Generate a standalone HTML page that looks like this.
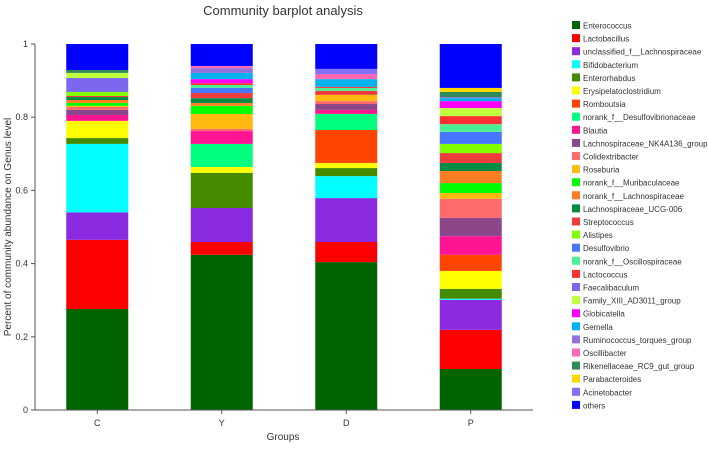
<!DOCTYPE html>
<html><head><meta charset="utf-8"><style>
body{margin:0;background:#fff;font-family:"Liberation Sans",Arial,sans-serif}
svg text{font-family:"Liberation Sans",Arial,sans-serif;fill:#333}
</style></head><body>
<svg id="chart" width="708" height="444" xmlns="http://www.w3.org/2000/svg">
<text x="283" y="15" font-size="13" text-anchor="middle">Community barplot analysis</text>
<g id="bars"></g><g id="axes"></g><g id="legend"></g>
</svg>
<script>
const groups=["C","Y","D","P"];
const genera=["Enterococcus","Lactobacillus","unclassified_f__Lachnospiraceae","Bifidobacterium","Enterorhabdus","Erysipelatoclostridium","Romboutsia","norank_f__Desulfovibrionaceae","Blautia","Lachnospiraceae_NK4A136_group","Colidextribacter","Roseburia","norank_f__Muribaculaceae","norank_f__Lachnospiraceae","Lachnospiraceae_UCG-006","Streptococcus","Alistipes","Desulfovibrio","norank_f__Oscillospiraceae","Lactococcus","Faecalibaculum","Family_XIII_AD3011_group","Globicatella","Gemella","Ruminococcus_torques_group","Oscillibacter","Rikenellaceae_RC9_gut_group","Parabacteroides","Acinetobacter","others"];
const colors=["#006400","#ff0000","#8a2be2","#00ffff","#458b00","#ffff00","#ff4500","#00ff7f","#ff1493","#8b4789","#ff6a6a","#ffb90f","#00ff00","#ff7f24","#008b45","#ee3b3b","#7fff00","#4876ff","#4eee94","#ff3030","#7b68ee","#c0ff3e","#ff00ff","#00b2ee","#9370db","#ff69b4","#2e8b57","#ffd700","#8470ff","#0000ff"];
const valuesC=[.276,.189,.075,.187,.016,.047,0,0,.016,.014,.008,.003,.008,.008,.008,.003,.011,0,0,0,.038,.014,0,0,0,0,.008,0,0,.071];
const valuesY=[.424,.035,.093,0,.096,.016,0,.063,.035,0,.006,.041,.022,.008,.013,.014,0,.014,.008,.005,0,0,.011,.017,.013,.006,0,0,0,.06];
const valuesD=[.404,.055,.12,.06,.022,.014,.09,.044,.011,.016,.008,.017,0,0,0,.011,0,0,.008,.003,0,0,0,.021,0,.014,0,0,.014,.068];
const valuesP=[.112,.107,.082,.003,.027,.049,.044,0,.051,.05,.052,.016,.027,.033,.022,.027,.025,.033,.021,.022,0,.022,.019,.008,.003,0,.014,.011,0,.12];
const yTicks=[0,0.2,0.4,0.6,0.8,1];
const series=[valuesC,valuesY,valuesD,valuesP];
const NS="http://www.w3.org/2000/svg";
const X0=35,X1=533,Y0=410,Y1=44;
const band=(X1-X0)/groups.length, bw=62;
const y=v=>Y0-(Y0-Y1)*v;
const xc=i=>X0+band*(i+0.5);
function mk(tag,attrs,parent){const e=document.createElementNS(NS,tag);for(const k in attrs)e.setAttribute(k,attrs[k]);parent.appendChild(e);return e;}
const gb=document.getElementById('bars'),ga=document.getElementById('axes'),gl=document.getElementById('legend');
groups.forEach((g,i)=>{let cum=0;series[i].forEach((v,j)=>{if(v<=0)return;
 const r=mk('rect',{x:xc(i)-bw/2,y:y(cum+v),width:bw,height:y(cum)-y(cum+v),fill:colors[j]},gb);
 
 
 cum+=v;});
 const t=mk('line',{x1:xc(i),x2:xc(i),y1:Y0,y2:Y0+4,stroke:'#555'},ga);
 
 
 const l=mk('text',{x:xc(i),y:Y0+16,'font-size':9,'text-anchor':'middle'},ga);l.textContent=g;
 
 
});
const ax=mk('path',{d:`M${X0},${Y1}V${Y0}H${X1}`,stroke:'#555',fill:'none'},ga);


yTicks.forEach(v=>{const t=mk('line',{x1:X0-4,x2:X0,y1:y(v),y2:y(v),stroke:'#555'},ga);
 
 
 const l=mk('text',{x:X0-7,y:y(v)+3,'font-size':9,'text-anchor':'end'},ga);l.textContent=String(v);
 
 
});
const yt=mk('text',{x:11,y:227,'font-size':10,'text-anchor':'middle',transform:'rotate(-90 11 227)'},ga);yt.textContent='Percent of community abundance on Genus level';


const xt=mk('text',{x:283,y:440,'font-size':10,'text-anchor':'middle'},ga);xt.textContent='Groups';


genera.forEach((n,j)=>{const yy=21+j*13.1;
 const g=mk('g',{},gl);
 
 
 mk('rect',{x:572,y:yy,width:8,height:8,fill:colors[j]},g);
 const t=mk('text',{x:583,y:yy+7.5,'font-size':8},g);t.textContent=n;
});
</script>
</body></html>
